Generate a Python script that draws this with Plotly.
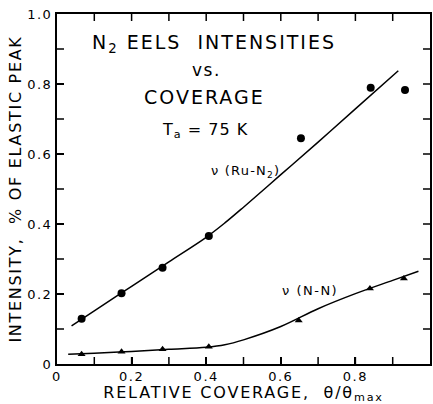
import plotly.graph_objects as go

# Measured points
coverage_ru = [0.066, 0.173, 0.283, 0.407, 0.654, 0.841, 0.933]
intensity_ru = [0.129, 0.202, 0.275, 0.366, 0.645, 0.789, 0.783]
coverage_nn = [0.066, 0.173, 0.283, 0.407, 0.648, 0.839, 0.930]
intensity_nn = [0.028, 0.035, 0.042, 0.049, 0.124, 0.216, 0.244]

# Hand-drawn guide curves
curve_ru_x = [0.039, 0.1, 0.2, 0.3, 0.4, 0.45, 0.5, 0.6, 0.7, 0.8, 0.915]
curve_ru_y = [0.109, 0.152, 0.222, 0.292, 0.362, 0.403, 0.448, 0.541, 0.634, 0.729, 0.838]
curve_nn_x = [0.03, 0.1, 0.2, 0.3, 0.4, 0.45, 0.5, 0.6, 0.7, 0.8, 0.9, 0.969]
curve_nn_y = [0.028, 0.031, 0.036, 0.042, 0.048, 0.055, 0.069, 0.107, 0.158, 0.201, 0.239, 0.265]

tick_vals = [0, 0.2, 0.4, 0.6, 0.8, 1.0]
tick_labels = ["0", "0.2", "0.4", "0.6", "0.8", "1.0"]
all_tick_vals = [0.1, 0.2, 0.3, 0.4, 0.5, 0.6, 0.7, 0.8, 0.9]

FONT = "DejaVu Sans"
TICK_LEN = 7


def spaced(txt, px):
    return '<span style="letter-spacing:%spx">%s</span>' % (px, txt)


fig = go.Figure()
fig.add_trace(go.Scatter(x=curve_ru_x, y=curve_ru_y, mode="lines",
                         line=dict(color="black", width=1.5, shape="spline", smoothing=1.0),
                         showlegend=False, hoverinfo="skip"))
fig.add_trace(go.Scatter(x=curve_nn_x, y=curve_nn_y, mode="lines",
                         line=dict(color="black", width=1.5, shape="spline", smoothing=1.0),
                         showlegend=False, hoverinfo="skip"))
fig.add_trace(go.Scatter(x=coverage_ru, y=intensity_ru, mode="markers",
                         marker=dict(symbol="circle", size=8, color="black"),
                         showlegend=False))
fig.add_trace(go.Scatter(x=coverage_nn, y=intensity_nn, mode="markers",
                         marker=dict(symbol="triangle-up", size=7, color="black"),
                         showlegend=False))

axis_common = dict(
    range=[0, 1.0], tickmode="array", tickvals=tick_vals,
    ticktext=[spaced(t, 1.5) for t in tick_labels],
    ticks="inside", ticklen=TICK_LEN, tickwidth=1.5, tickcolor="black",
    showline=True, linecolor="black", linewidth=2, mirror=True,
    showgrid=False, zeroline=False,
    tickfont=dict(family=FONT, size=13, color="black"),
)

fig.update_layout(
    xaxis=dict(**axis_common, ticklabelstandoff=-1,
               title=dict(text=spaced("RELATIVE COVERAGE,  θ/θ<sub>max</sub>", 1.8),
                          font=dict(family=FONT, size=16, color="black"), standoff=1)),
    yaxis=dict(**axis_common,
               title=dict(text=spaced("INTENSITY,  % OF ELASTIC PEAK", 1.7),
                          font=dict(family=FONT, size=16, color="black"), standoff=2)),
)

# Inward tick marks on all four sides, placed at tick values through the axis scales
tick_line = dict(color="black", width=1.5)
for v in all_tick_vals:
    # bottom
    fig.add_shape(type="line", xref="x", yref="y", x0=v, x1=v,
                  ysizemode="pixel", yanchor=0, y0=0, y1=TICK_LEN, line=tick_line)
    # top
    fig.add_shape(type="line", xref="x", yref="y", x0=v, x1=v,
                  ysizemode="pixel", yanchor=1.0, y0=0, y1=-TICK_LEN, line=tick_line)
    # left
    fig.add_shape(type="line", xref="x", yref="y", y0=v, y1=v,
                  xsizemode="pixel", xanchor=0, x0=0, x1=TICK_LEN, line=tick_line)
    # right
    fig.add_shape(type="line", xref="x", yref="y", y0=v, y1=v,
                  xsizemode="pixel", xanchor=1.0, x0=0, x1=-TICK_LEN, line=tick_line)

ann_font = dict(family=FONT, color="black")
annotations = [
    dict(x=0.42, y=0.915, text=spaced("N<sub>2</sub> EELS  INTENSITIES", 2.0), font=dict(size=19, **ann_font)),
    dict(x=0.40, y=0.84, text=spaced("vs.", 1.5), font=dict(size=17, **ann_font)),
    dict(x=0.395, y=0.763, text=spaced("COVERAGE", 2.0), font=dict(size=19, **ann_font)),
    dict(x=0.397, y=0.668, text=spaced("T<sub>a</sub> = 75 K", 1.0), font=dict(size=16, **ann_font)),
    dict(x=0.505, y=0.549, text=spaced("ν (Ru-N<sub>2</sub>)", 1.2), font=dict(size=13, **ann_font)),
    dict(x=0.677, y=0.211, text=spaced("ν (N-N)", 1.5), font=dict(size=13, **ann_font)),
]
for a in annotations:
    a.update(xref="x", yref="y", showarrow=False, xanchor="center", yanchor="middle")

fig.update_layout(
    width=433, height=404,
    margin=dict(l=57, r=1, t=14, b=40),
    paper_bgcolor="white", plot_bgcolor="white",
    annotations=annotations,
    font=dict(family=FONT, color="black"),
)

fig.write_html("out.html")
